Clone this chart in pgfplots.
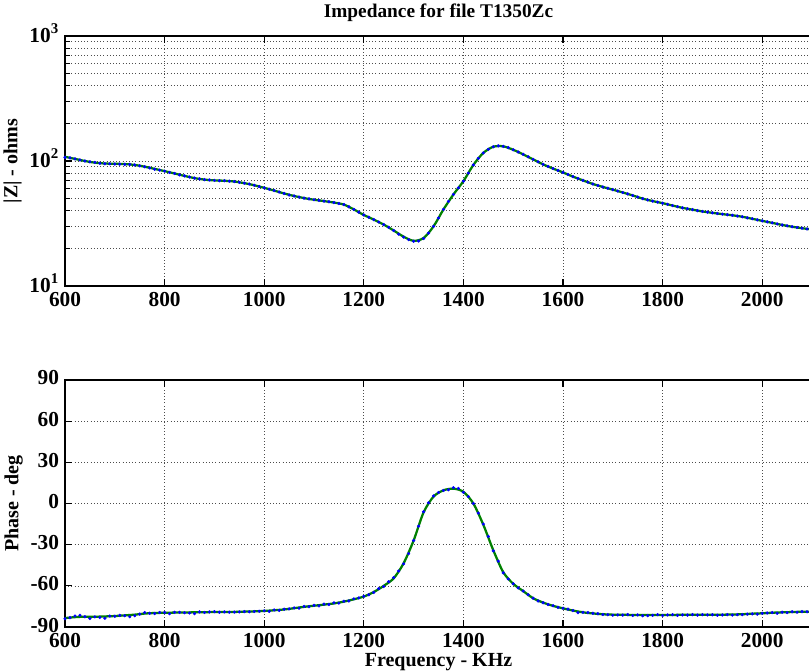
\documentclass[border=0pt]{standalone}
\usepackage{fontspec}
\setmainfont{Liberation Serif}
\usepackage{pgfplots}
\usepackage{pgfplotstable}
\pgfplotsset{compat=1.18}

\pgfplotstableread{
f z p
600 107 -84.0
610 106 -83.2
620 104 -82.0
630 102 -81.5
640 100 -82.5
650 98.5 -83.8
660 97.5 -82.6
670 96 -83.0
680 95 -83.6
690 95 -82.0
700 94.5 -82.2
710 94.5 -81.5
720 94 -81.8
730 94 -82.5
740 93 -81.8
750 91.5 -80.6
760 90 -79.5
770 88 -80.0
780 86 -80.2
790 84.5 -79.4
800 83 -79.4
810 81 -80.3
820 79.5 -79.3
830 77.5 -79.3
840 76 -79.6
850 74.5 -79.8
860 73 -80.2
870 72 -79.0
880 71 -79.4
890 70.5 -79.0
900 70 -78.8
910 69.5 -79.2
920 69.5 -79.0
930 69 -79.2
940 68.5 -79.1
950 67.5 -79.0
960 66.5 -78.8
970 65.5 -78.9
980 64 -78.7
990 62.5 -78.5
1000 61 -78.2
1010 59.5 -78.6
1020 58 -77.6
1030 56.5 -77.9
1040 55 -77.0
1050 53.5 -76.8
1060 52.5 -76.1
1070 51.5 -76.3
1080 50.5 -75.0
1090 49.8 -75.2
1100 49 -74.2
1110 48.4 -74.6
1120 47.8 -73.3
1130 47.2 -73.6
1140 46.5 -72.4
1150 45.7 -72.6
1160 44.8 -71.2
1170 43 -71.0
1180 41 -69.5
1190 39 -68.8
1200 37 -67.6
1210 35.5 -66.5
1220 34 -64.8
1230 32.5 -62.0
1240 31 -60.5
1250 29.5 -57.0
1260 27.8 -54.0
1270 26 -49.2
1280 24.6 -44.0
1290 23.5 -36.5
1300 22.8 -27.0
1310 22.9 -16.5
1320 24.0 -6.0
1330 26.5 0.5
1340 30 5.5
1350 35 8.0
1360 41 9.5
1370 47.5 10.0
1380 54 11.5
1390 61 11.0
1400 69 8.2
1410 80 5.0
1420 93 0.0
1430 105 -7.0
1440 116 -15.0
1450 124 -24.0
1460 130 -34.5
1470 132 -42.0
1480 131 -50.5
1490 128 -55.0
1500 123 -58.5
1510 118 -61.5
1520 113 -63.8
1530 108 -66.5
1540 103 -69.0
1550 98.5 -71.0
1560 94 -72.3
1570 90.5 -73.6
1580 87 -74.5
1590 84 -75.7
1600 81 -76.3
1610 78 -77.0
1620 75 -78.0
1630 72.5 -79.5
1640 70 -79.3
1650 67.7 -79.5
1660 65.5 -80.0
1670 63.7 -80.3
1680 62 -80.9
1690 60.5 -81.0
1700 59 -81.4
1710 57.5 -81.2
1720 56 -81.3
1730 54.5 -81.0
1740 53 -81.6
1750 51.5 -81.2
1760 50 -81.8
1770 48.8 -81.7
1780 47.8 -81.5
1790 46.9 -81.0
1800 46 -81.6
1810 45 -81.2
1820 44 -81.0
1830 43.1 -81.5
1840 42.2 -81.2
1850 41.5 -81.3
1860 40.8 -81.0
1870 40.1 -81.3
1880 39.5 -81.0
1890 39 -81.2
1900 38.5 -81.1
1910 38 -81.4
1920 37.6 -81.2
1930 37.2 -81.0
1940 36.8 -81.3
1950 36.3 -81.0
1960 35.8 -81.0
1970 35.1 -80.6
1980 34.5 -80.4
1990 33.8 -80.6
2000 33.2 -80.0
2010 32.6 -79.8
2020 32 -79.5
2030 31.4 -80.0
2040 30.8 -79.2
2050 30.3 -79.5
2060 29.8 -78.9
2070 29.4 -79.2
2080 29 -78.8
2090 28.6 -78.9
2100 28.3 -78.7
}\dotsdata

\pgfplotstableread{
f z p
600 108 -83.5
620 104 -82.8
640 100 -82.5
660 97 -82.5
680 95.5 -82.3
700 95 -82
720 94.5 -81.5
740 93 -81
760 90 -80.2
780 86.5 -79.8
800 83 -79.6
820 79.5 -79.5
840 76 -79.4
860 73 -79.3
880 71 -79.2
900 70 -79.1
920 69.5 -79
940 68.5 -79
960 66.5 -78.8
980 64 -78.6
1000 61 -78.3
1020 58 -77.8
1040 55 -77.2
1060 52.5 -76.3
1080 50.5 -75.3
1100 49 -74.5
1120 47.8 -73.7
1140 46.5 -72.8
1160 44.8 -71.5
1180 41 -69.8
1200 37 -67.8
1220 34 -64.5
1240 31 -60
1260 27.8 -54.5
1280 24.8 -43.5
1300 23.0 -27
1320 24.2 -6.5
1340 30 5
1360 41 9.6
1380 54 10.8
1400 69 8.5
1420 93 0
1440 116 -15.5
1460 130 -34
1480 131 -50
1500 123 -58.5
1520 113 -63.8
1540 103 -69
1560 94 -72.2
1580 87 -74.6
1600 81 -76.4
1620 75 -78
1640 70 -79.3
1660 65.5 -80.1
1680 62 -80.7
1700 59 -81
1720 56 -81.1
1740 53 -81.2
1760 50 -81.3
1780 47.8 -81.3
1800 46 -81.3
1820 44 -81.2
1840 42.2 -81.1
1860 40.8 -81.1
1880 39.5 -81
1900 38.5 -81
1920 37.6 -81
1940 36.8 -80.9
1960 35.8 -80.7
1980 34.5 -80.3
2000 33.2 -80
2020 32 -79.6
2040 30.8 -79.3
2060 29.8 -79.1
2080 29 -78.9
2100 28.3 -78.8
}\linedata

\begin{document}
\begin{tikzpicture}
\pgfplotsset{
  myaxis/.style={
    scale only axis,
    width=560.25pt,
    xmin=600, xmax=2100,
    xtick={600,800,...,2000},
    /pgf/number format/1000 sep={},
    /pgf/number format/assume math mode=true,
    tick label style={font=\fontsize{16}{17}\selectfont\bfseries},
    label style={font=\fontsize{15}{16}\selectfont\bfseries},
    title style={font=\fontsize{14.5}{16}\selectfont\bfseries},
    tick align=inside,
    xtick pos=both,
    ytick pos=left,
    major tick length=5pt,
    minor tick length=3.5pt,
    every tick/.style={black, line width=0.8pt},
    axis line style={black, line width=0.9pt},
    major grid style={dotted, black!70, line width=0.5pt},
    minor grid style={dotted, black!70, line width=0.5pt},
    xticklabel style={yshift=-1pt},
    yticklabel style={xshift=-1pt},
  },
}
\begin{axis}[myaxis,
  at={(48.75pt,-214.5pt)}, anchor=south west,
  height=187.5pt,
  ymode=log, ymin=10, ymax=1000,
  ytick={10,100,1000},
  yticklabels={10$^{\mathbf{1}}$,10$^{\mathbf{2}}$,10$^{\mathbf{3}}$},
  yticklabel style={yshift=2pt},
  grid=both,
  title={Impedance for file T1350Zc},
  title style={yshift=1pt},
  ylabel={|Z| - ohms},
  ylabel style={yshift=-1pt},
]
\addplot[blue, only marks, mark=*, mark size=1pt] table[x=f,y=z]{\dotsdata};
\addplot[green!50!black, line width=1.7pt, smooth] table[x=f,y=z]{\linedata};
\end{axis}

\begin{axis}[myaxis,
  at={(48.75pt,-470.25pt)}, anchor=south west,
  height=185.25pt,
  ymin=-90, ymax=90,
  ytick={-90,-60,...,90},
  yticklabel style={yshift=1.5pt},
  grid=major,
  ylabel={Phase - deg},
  ylabel style={yshift=-1pt},
  xlabel={Frequency - KHz},
  xlabel style={yshift=0pt, inner sep=1pt},
]
\addplot[blue, only marks, mark=*, mark size=1pt] table[x=f,y=p]{\dotsdata};
\addplot[green!50!black, line width=1.7pt, smooth] table[x=f,y=p]{\linedata};
\end{axis}
\pgfresetboundingbox
\path[use as bounding box] (0pt,0pt) rectangle (606.75pt,-503.25pt);
\end{tikzpicture}
\end{document}
